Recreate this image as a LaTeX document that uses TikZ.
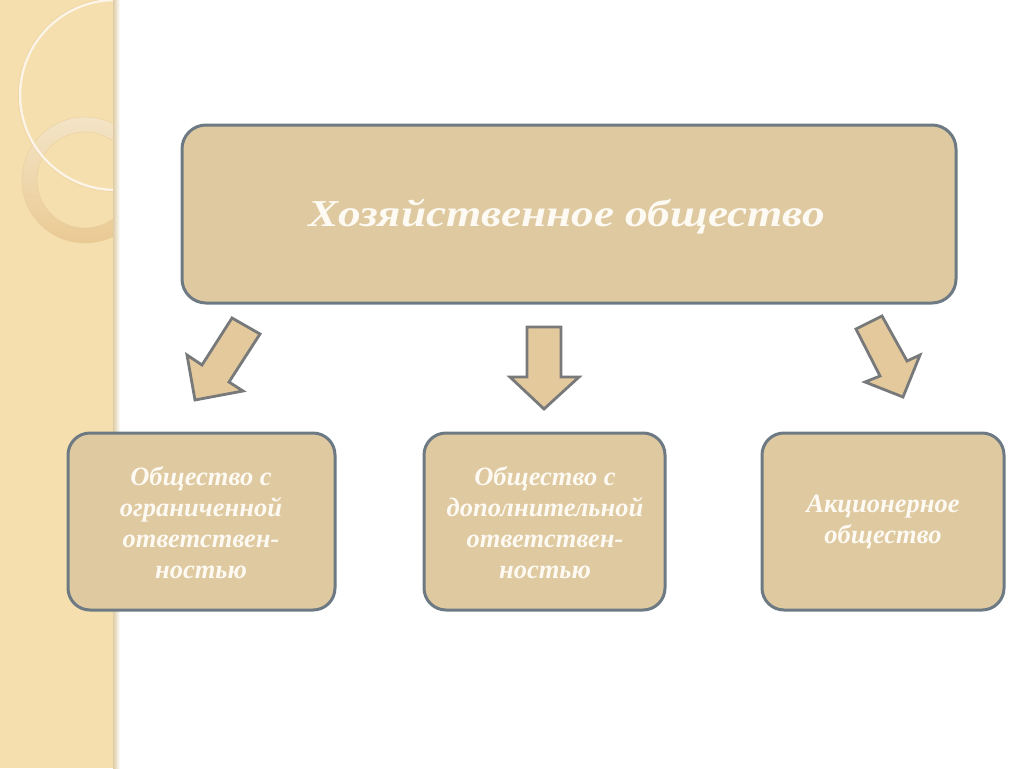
\documentclass[tikz,border=0pt]{standalone}
\usepackage{fontspec}
\setmainfont{Liberation Serif}
\newfontfamily\titlefont[FakeStretch=1.19]{Liberation Serif}
\usetikzlibrary{shadings}
\definecolor{strip}{HTML}{F5DFAE}
\definecolor{striplight}{HTML}{F9EBCB}
\definecolor{ringtop}{HTML}{F3E4C6}
\definecolor{ringbot}{HTML}{EACA94}
\definecolor{boxfill}{HTML}{DFC9A0}
\definecolor{boxline}{HTML}{6D7A84}
\definecolor{arrowfill}{HTML}{E3C99C}
\definecolor{arrowline}{HTML}{77797A}
\definecolor{txt}{HTML}{FDFAF3}
\tikzset{
  box/.style={draw=boxline, line width=3pt, fill=boxfill, rounded corners=24pt},
  boxtext/.style={text=txt, align=center, font=\fontsize{26.5}{31}\selectfont\bfseries\itshape},
  blockarrow/.style={draw=arrowline, line width=2.8pt, fill=arrowfill, line join=miter},
}
\begin{document}
\begin{tikzpicture}[x=1pt,y=-1pt]
\useasboundingbox (0,0) rectangle (1024,768);
\fill[white] (0,0) rectangle (1024,768);
% left decorative strip
\begin{scope}
\clip (0,0) rectangle (113,768);
\fill[strip] (0,0) rectangle (113,768);
\fill[striplight] (0,0) -- (92,0) arc[start angle=0, end angle=-90, radius=92] -- cycle;
\draw[strip!80!brown, line width=0.6pt] (92,0) arc[start angle=0, end angle=-90, radius=92];
\shade[even odd rule, top color=ringtop, bottom color=ringbot]
  (85,180) circle[radius=63] (85,180) circle[radius=48];
\draw[strip!75!brown, line width=0.6pt, opacity=0.5] (85,180) circle[radius=63] (85,180) circle[radius=48];
\draw[white!70!strip, line width=2.5pt] (115,95) circle[radius=95];
\draw[strip!75!brown, line width=0.5pt, opacity=0.6] (115,95) circle[radius=96.5];
\end{scope}
\shade[left color=strip!80!gray, right color=white] (113,0) rectangle (120,768);
% main box
\node[box, minimum width=774pt, minimum height=178pt] (main) at (569,214) {};
\node[text=txt, font=\fontsize{38}{44}\titlefont\bfseries\itshape] (maint) at (567,217) {Хозяйственное общество};
% bottom boxes
\node[box, rounded corners=22pt, minimum width=267pt, minimum height=177pt] (b1) at (201.5,521.5) {};
\node[box, rounded corners=22pt, minimum width=241pt, minimum height=177pt] (b2) at (544.5,521.5) {};
\node[box, rounded corners=22pt, minimum width=242pt, minimum height=177pt] (b3) at (883,521.5) {};
\node[boxtext] (t1) at (201,523) {Общество с\\ограниченной\\ответствен-\\ностью};
\node[boxtext] (t2) at (545,523) {Общество с\\дополнительной\\ответствен-\\ностью};
\node[boxtext] (t3) at (883,522) {Акционерное\\общество};
% block arrows
\draw[blockarrow] (232,318) -- (260,334) -- (229,382) -- (243,391) -- (195,400) -- (187,355) -- (202,365) -- cycle;
\draw[blockarrow] (527,327) -- (561,327) -- (561,377) -- (579,377) -- (544,409) -- (510,377) -- (527,377) -- cycle;
\draw[blockarrow] (856,329) -- (882,316) -- (907,361) -- (920,355) -- (903,397) -- (865,382) -- (880,376) -- cycle;
\end{tikzpicture}
\end{document}
